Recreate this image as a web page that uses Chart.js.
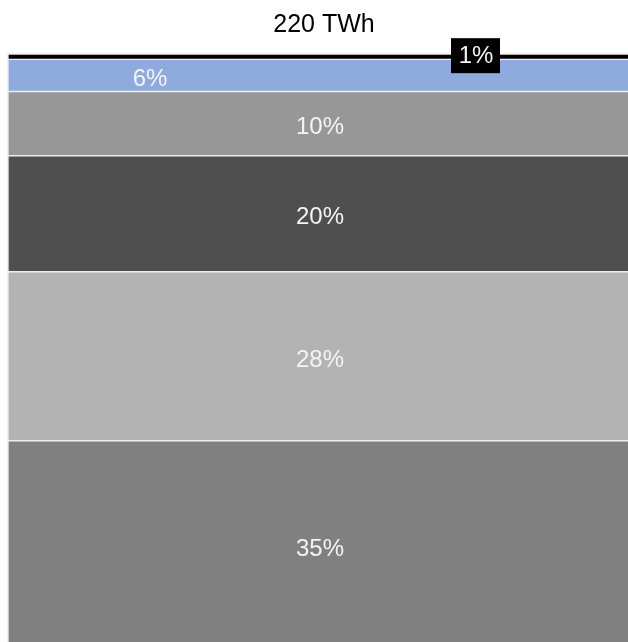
<!DOCTYPE html>
<html lang="en">
<head>
    <meta charset="UTF-8">
    <title>220 TWh</title>
    <script src="https://cdn.jsdelivr.net/npm/chart.js"></script>
    <style>
        html, body {
            margin: 0;
            padding: 0;
            background: #ffffff;
            overflow: hidden;
        }
        #chart-box {
            width: 640px;
            height: 650px;
        }
    </style>
</head>
<body>
    <div id="chart-box">
        <canvas id="shareChart" width="640" height="650"></canvas>
    </div>

    <script>
        // data, bottom segment first
        const totalLabel = '220 TWh';
        const shares = [35, 28.4, 19.5, 10.8, 5.4, 0.9];
        const shareLabels = ['35%', '28%', '20%', '10%', '6%', '1%'];
        const segmentColors = ['#808080', '#b3b3b3', '#4f4f4f', '#979797', '#8faadc', '#000000'];

        // where a label sits away from the middle of its segment
        const labelX = { 4: 150, 5: 476 };
        const boxedLabel = 5;

        const datasets = shares.map((v, i) => ({
            label: shareLabels[i],
            data: [v],
            backgroundColor: segmentColors[i],
            borderColor: '#eeeeee',
            borderWidth: 1,
            borderSkipped: false,
            barPercentage: 1,
            categoryPercentage: 1
        }));

        // light backdrop behind the bar
        const backdrop = {
            id: 'backdrop',
            beforeDatasetsDraw(chart) {
                const a = chart.chartArea;
                const ctx = chart.ctx;
                ctx.save();
                ctx.fillStyle = '#eeeeee';
                ctx.fillRect(a.left - 1, a.top - 1, a.right - a.left + 2, a.bottom - a.top + 2);
                ctx.restore();
            }
        };

        // percentage labels on the segments
        const segmentLabels = {
            id: 'segmentLabels',
            afterDatasetsDraw(chart) {
                const ctx = chart.ctx;
                ctx.save();
                ctx.font = '24px "Liberation Sans", Arial, sans-serif';
                ctx.textAlign = 'center';
                ctx.textBaseline = 'middle';
                chart.data.datasets.forEach((ds, i) => {
                    const el = chart.getDatasetMeta(i).data[0];
                    const x = labelX[i] !== undefined ? labelX[i] : chart.chartArea.left + (chart.chartArea.right - chart.chartArea.left) / 2 - 4;
                    let y = (el.y + el.base) / 2 + 3;
                    if (i === boxedLabel) {
                        y -= 4;
                        ctx.fillStyle = '#000000';
                        ctx.fillRect(x - 25, y - 17.5, 49, 35);
                    }
                    ctx.fillStyle = '#f4f4f4';
                    ctx.fillText(shareLabels[i], x, y + 1);
                });
                ctx.restore();
            }
        };

        new Chart(document.getElementById('shareChart').getContext('2d'), {
            type: 'bar',
            data: {
                labels: [totalLabel],
                datasets: datasets
            },
            options: {
                responsive: false,
                animation: false,
                layout: {
                    padding: { left: 8, right: 0, top: 0, bottom: 1 }
                },
                scales: {
                    x: { stacked: true, display: false },
                    y: { stacked: true, display: false, min: 0, max: 100 }
                },
                plugins: {
                    legend: { display: false },
                    tooltip: { enabled: false },
                    title: {
                        display: true,
                        text: totalLabel,
                        color: '#000000',
                        font: { family: '"Liberation Sans", Arial, sans-serif', size: 25, weight: 'normal' },
                        padding: { top: 10, bottom: 14 }
                    }
                }
            },
            plugins: [backdrop, segmentLabels]
        });
    </script>
</body>
</html>
